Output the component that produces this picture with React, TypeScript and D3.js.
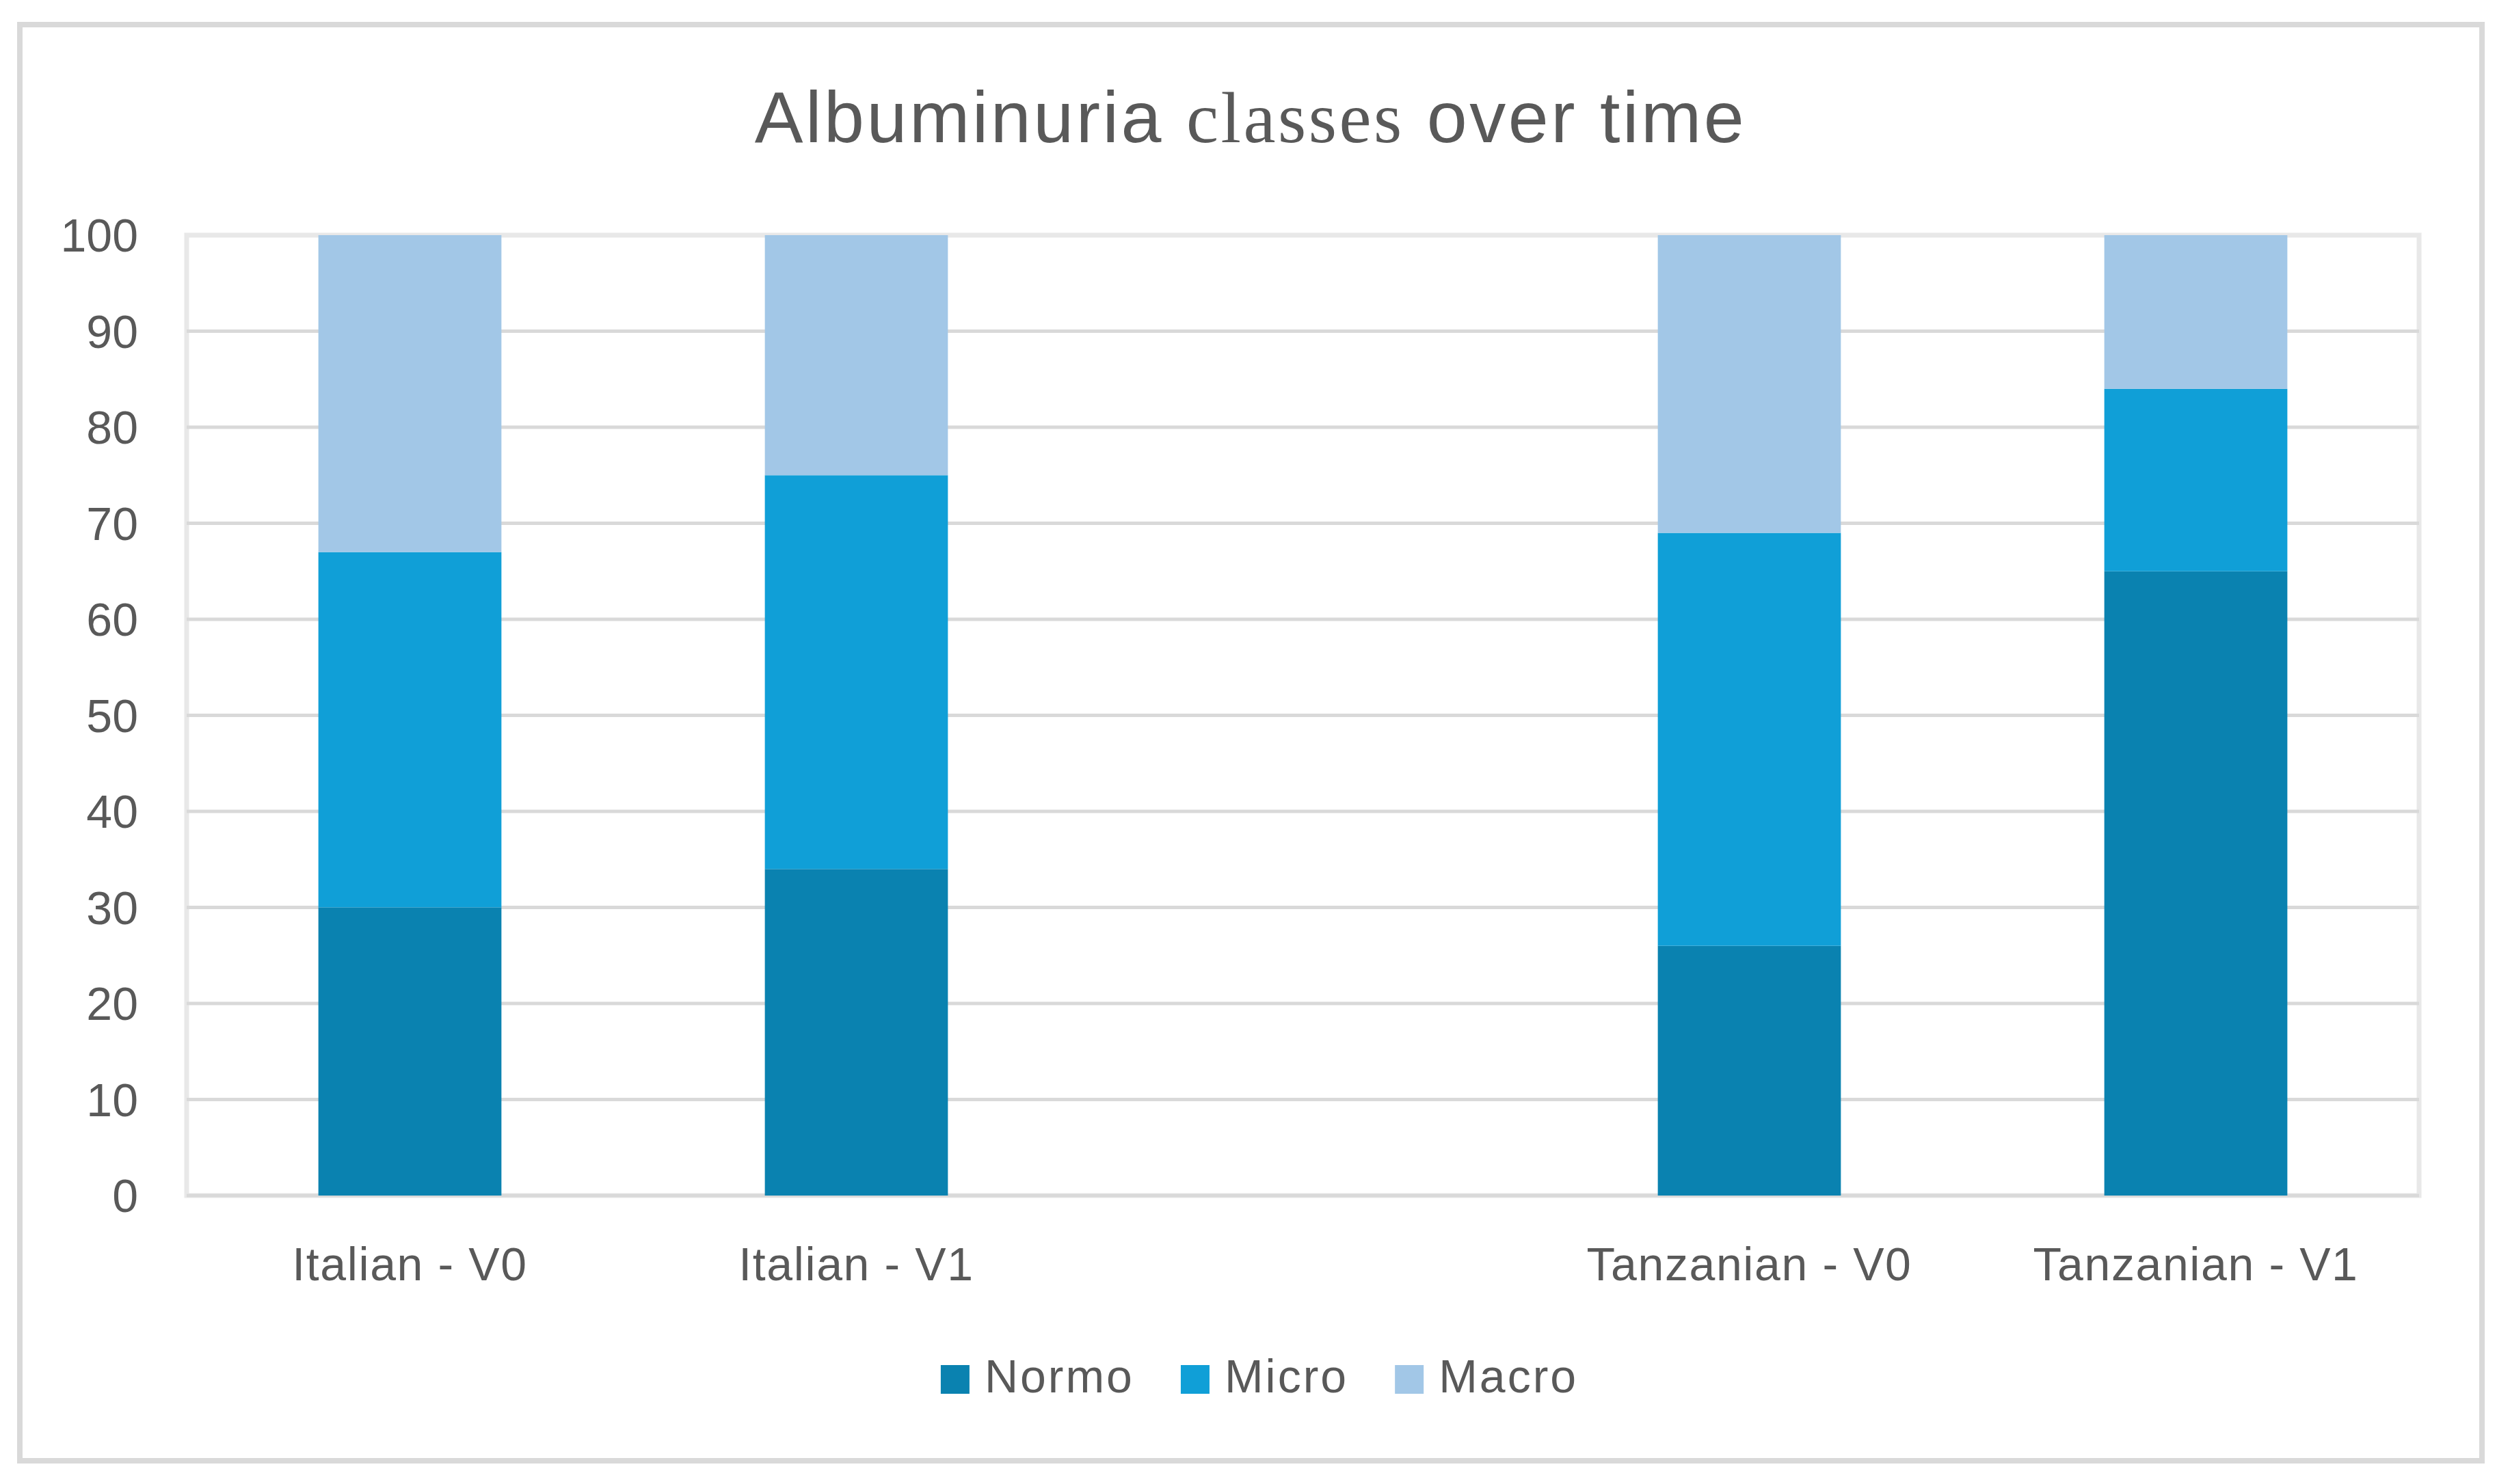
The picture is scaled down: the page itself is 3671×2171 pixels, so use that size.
import React, { useEffect, useRef } from 'react';
import * as d3 from 'd3';

// categories (the empty slot between the two groups is a blank category)
const categories = ["Italian - V0", "Italian - V1", " ", "Tanzanian - V0", "Tanzanian - V1"];
const seriesNames = ["Normo", "Micro", "Macro"];
const normo = [30, 34, 0, 26, 65];
const micro = [37, 41, 0, 43, 19];
const macro = [33, 25, 0, 31, 16];
const yTicks = [0, 10, 20, 30, 40, 50, 60, 70, 80, 90, 100];
const colors = ["#0a82b0", "#109fd7", "#a2c7e7"];

const App = () => {
    const svgRef = useRef<SVGSVGElement>(null);

    useEffect(() => {
        const width = 3671;
        const height = 2171;
        const margin = { top: 344, right: 133, bottom: 422, left: 273 };
        const font = "'Liberation Sans', Arial, sans-serif";
        const textColor = "#595959";

        d3.select(svgRef.current).selectAll("*").remove();

        const svg = d3.select(svgRef.current)
            .attr("width", width)
            .attr("height", height)
            .attr("viewBox", `0 0 ${width} ${height}`);

        svg.append("rect")
            .attr("width", width).attr("height", height)
            .attr("fill", "#fff");

        // outer chart border
        svg.append("rect")
            .attr("x", 29).attr("y", 36)
            .attr("width", 3601).attr("height", 2101)
            .attr("fill", "none")
            .attr("stroke", "#d9d9d9")
            .attr("stroke-width", 8);

        // scales
        const x = d3.scaleBand()
            .domain(categories)
            .range([margin.left, width - margin.right])
            .padding(0);

        const y = d3.scaleLinear()
            .domain([0, 100])
            .range([height - margin.bottom, margin.top]);

        const barWidth = x.bandwidth() * 0.41;

        // plot area frame
        svg.append("rect")
            .attr("x", margin.left).attr("y", margin.top)
            .attr("width", width - margin.right - margin.left)
            .attr("height", height - margin.bottom - margin.top)
            .attr("fill", "none")
            .attr("stroke", "#e8e8e8")
            .attr("stroke-width", 7);

        // gridlines
        svg.append("g")
            .selectAll("line")
            .data(yTicks.filter(t => t < 100))
            .join("line")
            .attr("x1", margin.left)
            .attr("x2", width - margin.right)
            .attr("y1", d => y(d))
            .attr("y2", d => y(d))
            .attr("stroke", "#d9d9d9")
            .attr("stroke-width", 5);

        // y tick labels
        svg.append("g")
            .selectAll("text")
            .data(yTicks)
            .join("text")
            .attr("x", 202)
            .attr("y", d => y(d))
            .attr("dy", "0.36em")
            .attr("text-anchor", "end")
            .attr("font-family", font)
            .attr("font-size", 68)
            .attr("fill", textColor)
            .text(d => d);

        // stacked bars
        const rows = categories.map((c, i) => ({ cat: c, Normo: normo[i], Micro: micro[i], Macro: macro[i] }));
        const stacked = d3.stack<any>().keys(seriesNames)(rows);

        stacked.forEach((layer, li) => {
            svg.append("g")
                .attr("fill", colors[li])
                .selectAll("rect")
                .data(layer)
                .join("rect")
                .attr("x", d => (x(d.data.cat) as number) + (x.bandwidth() - barWidth) / 2)
                .attr("width", barWidth)
                .attr("y", d => y(d[1]))
                .attr("height", d => y(d[0]) - y(d[1]));
        });

        // x labels
        svg.append("g")
            .selectAll("text")
            .data(categories)
            .join("text")
            .attr("x", d => (x(d) as number) + x.bandwidth() / 2)
            .attr("y", 1873)
            .attr("text-anchor", "middle")
            .attr("font-family", font)
            .attr("font-size", 68)
            .attr("letter-spacing", 1.6)
            .attr("fill", textColor)
            .text(d => d);

        // title, "classes" is set in a serif face like the original
        const title = svg.append("text")
            .attr("x", 1829)
            .attr("y", 208)
            .attr("text-anchor", "middle")
            .attr("font-family", font)
            .attr("font-size", 106)
            .attr("letter-spacing", 3.5)
            .attr("fill", textColor);
        title.append("tspan").text("Albuminuria ");
        title.append("tspan").attr("font-family", "'Liberation Serif', serif").text("classes");
        title.append("tspan").text(" over time");

        // legend
        const legend = svg.append("g");
        let cursor = 0;
        seriesNames.forEach((name, i) => {
            const item = legend.append("g").attr("transform", `translate(${cursor},0)`);
            item.append("rect")
                .attr("x", 0).attr("y", 1997)
                .attr("width", 42).attr("height", 42)
                .attr("fill", colors[i]);
            const t = item.append("text")
                .attr("x", 64).attr("y", 2037)
                .attr("font-family", font)
                .attr("font-size", 68)
                .attr("letter-spacing", 3)
                .attr("fill", textColor)
                .text(name);
            const w = (t.node() as SVGTextElement).getComputedTextLength();
            cursor += 64 + w + 68;
        });
        const total = cursor - 68;
        legend.attr("transform", `translate(${1842 - total / 2},0)`);
    }, []);

    return (
        <div style={{ position: 'absolute', left: 0, top: 0 }}>
            <svg ref={svgRef}></svg>
        </div>
    );
};

export default App;
